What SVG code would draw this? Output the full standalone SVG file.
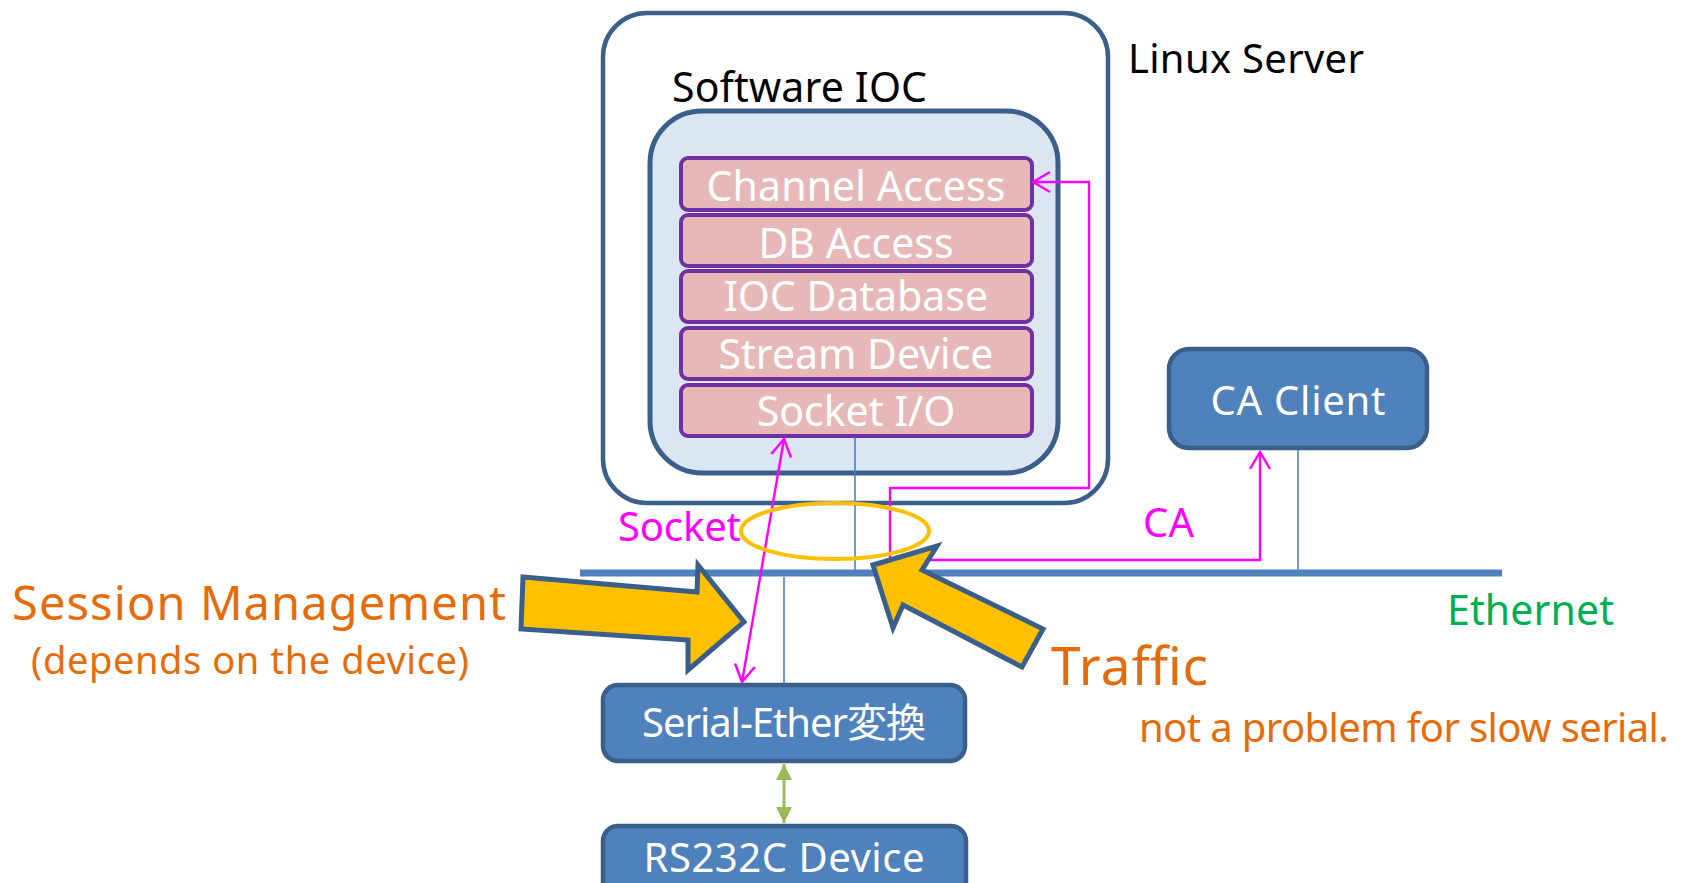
<svg xmlns="http://www.w3.org/2000/svg" width="1685" height="883" viewBox="0 0 1685 883">
  <style>
    text { font-family: "Noto Sans", "Noto Sans CJK JP", sans-serif; }
    .frame { fill: #ffffff; stroke: #3a5f8b; stroke-width: 4.5; }
    .ioc { fill: #dce6f2; stroke: #3a5f8b; stroke-width: 5; }
    .layer { fill: #e6b9b8; stroke: #7030a0; stroke-width: 4; }
    .layer-t { fill: #ffffff; font-size: 41px; text-anchor: middle; }
    .node { fill: #4f81bd; stroke: #3a5f8b; stroke-width: 4.5; }
    .node-t { fill: #ffffff; font-size: 40px; text-anchor: middle; }
    .wire { stroke: #4f81bd; stroke-width: 1.6; fill: none; }
    .ether { stroke: #4f81bd; stroke-width: 7; fill: none; }
    .mag { stroke: #ff00ff; stroke-width: 2.4; fill: none; }
    .mag-t { fill: #ff00ff; font-size: 40px; }
    .note { fill: #e46c0a; }
    .fat { fill: #ffc000; stroke: #3a5f8b; stroke-width: 5; stroke-linejoin: miter; }
  </style>
  <defs>
    <marker id="open" markerUnits="userSpaceOnUse" viewBox="0 0 22 24" refX="19" refY="12" markerWidth="22" markerHeight="24" orient="auto-start-reverse">
      <path d="M2 2 L19 12 L2 22" fill="none" stroke="#ff00ff" stroke-width="2.4"/>
    </marker>
    <marker id="tri" markerUnits="userSpaceOnUse" viewBox="0 0 18 18" refX="16" refY="9" markerWidth="18" markerHeight="18" orient="auto-start-reverse">
      <path d="M0 1 L16 9 L0 17 Z" fill="#9bbb59"/>
    </marker>
  </defs>

  <!-- host machine -->
  <g id="linux-server">
    <rect class="frame" x="603" y="13" width="505" height="490" rx="44"/>
    <text x="1128" y="73" font-size="40" fill="#000000" textLength="236">Linux Server</text>
  </g>

  <g id="software-ioc">
    <text x="672" y="102" font-size="41" fill="#000000" textLength="255">Software IOC</text>
    <rect class="ioc" x="650" y="111" width="408" height="362" rx="52"/>
  </g>

  <!-- IOC software layers -->
  <g id="channel-access">
    <rect class="layer" x="681" y="158" width="351" height="52" rx="7"/>
    <text class="layer-t" x="856" y="201" textLength="299">Channel Access</text>
  </g>
  <g id="db-access">
    <rect class="layer" x="681" y="215" width="351" height="51" rx="7"/>
    <text class="layer-t" x="856" y="258">DB Access</text>
  </g>
  <g id="ioc-database">
    <rect class="layer" x="681" y="271" width="351" height="51" rx="7"/>
    <text class="layer-t" x="856" y="311">IOC Database</text>
  </g>
  <g id="stream-device">
    <rect class="layer" x="681" y="328" width="351" height="51" rx="7"/>
    <text class="layer-t" x="856" y="369">Stream Device</text>
  </g>
  <g id="socket-io">
    <rect class="layer" x="681" y="385" width="351" height="51" rx="7"/>
    <text class="layer-t" x="856" y="426">Socket I/O</text>
  </g>

  <g id="ca-client">
    <rect class="node" x="1169" y="349" width="258" height="99" rx="20"/>
    <text class="node-t" x="1298" y="415" font-size="42" textLength="175">CA Client</text>
  </g>

  <g id="serial-ether">
    <rect class="node" x="603" y="685" width="362" height="76" rx="15"/>
    <text class="node-t" x="784" y="737" font-size="38" textLength="284">Serial-Ether変換</text>
  </g>

  <g id="rs232c-device">
    <rect class="node" x="603" y="826" width="363" height="80" rx="15"/>
    <text class="node-t" x="784" y="872" font-size="41" textLength="281">RS232C Device</text>
  </g>

  <!-- network and links -->
  <g id="connectors">
    <line class="ether" x1="580" y1="573" x2="1502" y2="573"/>
    <line class="wire" x1="855" y1="437" x2="855" y2="570"/>
    <line class="wire" x1="1298" y1="450" x2="1298" y2="570"/>
    <line class="wire" x1="784" y1="577" x2="784" y2="684"/>
    <line x1="784" y1="764" x2="784" y2="823" stroke="#9bbb59" stroke-width="3" marker-start="url(#tri)" marker-end="url(#tri)"/>
    <line class="mag" x1="742" y1="682" x2="784" y2="439" marker-start="url(#open)" marker-end="url(#open)"/>
    <path class="mag" d="M1033 182 H1089 V488 H890 V560 H1260 V452" marker-start="url(#open)" marker-end="url(#open)"/>
    <ellipse cx="835" cy="531" rx="94" ry="28" fill="none" stroke="#ffc000" stroke-width="4"/>
  </g>

  <text class="mag-t" x="618" y="541" textLength="123">Socket</text>
  <text class="mag-t" x="1143" y="537" textLength="51">CA</text>
  <text x="1447" y="625" font-size="41" fill="#00b050" textLength="167">Ethernet</text>

  <!-- callouts -->
  <polygon class="fat" points="523,577 697,592 698,565 744,622 688,670 688,640 521,629"/>
  <polygon class="fat" points="873,565 937,546 922,570 1043,629 1022,667 903,605 893,628"/>

  <text class="note" x="12" y="620" font-size="47" textLength="494">Session Management</text>
  <text class="note" x="31" y="674" font-size="38" textLength="438">(depends on the device)</text>
  <text class="note" x="1051" y="685" font-size="53" textLength="157">Traffic</text>
  <text class="note" x="1139" y="742" font-size="40" textLength="530">not a problem for slow serial.</text>
</svg>
